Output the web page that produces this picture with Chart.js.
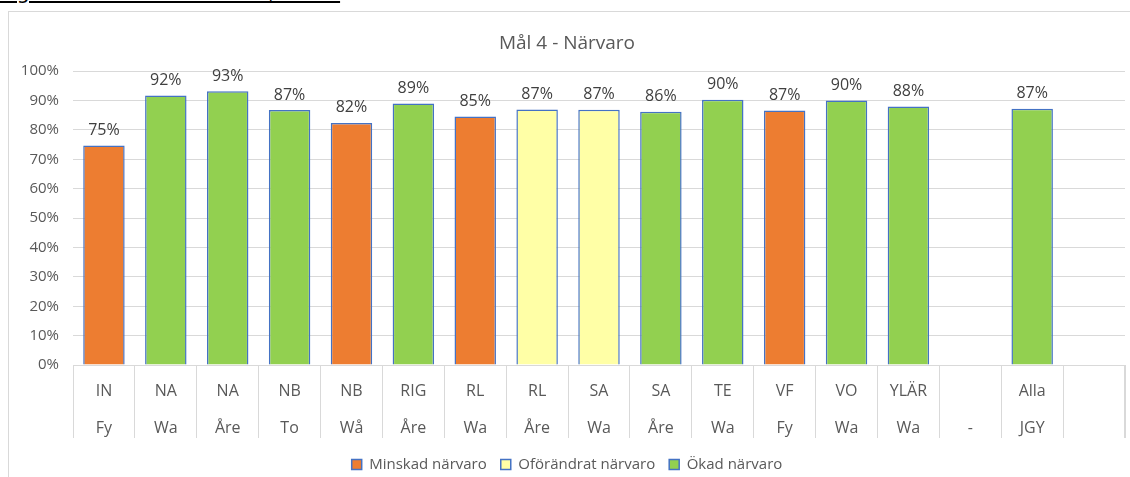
<!DOCTYPE html>
<html lang="sv">
<head>
<meta charset="utf-8">
<script src="https://cdn.jsdelivr.net/npm/chart.js@4"></script>
<style>
  body { margin: 0; background: #fff; overflow: hidden; }
  .rubrik {
    position: absolute; left: 0; top: -20px;
    font: 21px "DejaVu Sans", sans-serif; color: #000;
    text-decoration: underline; white-space: nowrap;
  }
  .ram {
    position: absolute; left: 8px; top: 11px;
    width: 1140px; height: 480px;
    border: 1px solid #d9d9d9; box-sizing: border-box;
  }
  canvas { position: absolute; left: 0; top: 0; }
</style>
</head>
<body>
<div class="rubrik">Figur 11. Närvaro i skolan, bild 2</div>
<div class="ram">
  <canvas id="narvaroChart" width="1130" height="470"></canvas>
</div>
<script>
// Programkoder (övre raden) och skolor (nedre raden)
const program = ['IN', 'NA', 'NA', 'NB', 'NB', 'RIG', 'RL', 'RL', 'SA', 'SA', 'TE', 'VF', 'VO', 'YLÄR', '', 'Alla', ''];
const skolor = ['Fy', 'Wa', 'Åre', 'To', 'Wå', 'Åre', 'Wa', 'Åre', 'Wa', 'Åre', 'Wa', 'Fy', 'Wa', 'Wa', '-', 'JGY', ''];

// Närvaro i procent per grupp
const narvaro = [74.7, 91.7, 93.2, 86.8, 82.4, 89.0, 84.6, 87.0, 86.9, 86.2, 90.3, 86.6, 90.0, 88.0, null, 87.2, null];

// Förändring: M = minskad, O = oförändrat, Ö = ökad
const forandring = ['M', 'Ö', 'Ö', 'Ö', 'M', 'Ö', 'M', 'O', 'O', 'Ö', 'Ö', 'M', 'Ö', 'Ö', null, 'Ö', null];

// Y-axelns etiketter
const yEtiketter = ['0%', '10%', '20%', '30%', '40%', '50%', '60%', '70%', '80%', '90%', '100%'];

const kategorier = program.map((p, i) => [p, skolor[i]]);

// Plocka ut värdena för en viss förändring
const valjSerie = kod => narvaro.map((v, i) => forandring[i] === kod ? v : null);

const grafiskText = '#595959';
const font = '"Open Sans", "Segoe UI", sans-serif';

// Plugin som skriver procentsatsen ovanför varje stapel
const stapelEtiketter = {
    id: 'stapelEtiketter',
    afterDatasetsDraw(chart) {
        const ctx = chart.ctx;
        ctx.save();
        ctx.font = '16px ' + font;
        ctx.fillStyle = '#404040';
        ctx.textAlign = 'center';
        ctx.textBaseline = 'bottom';
        chart.data.datasets.forEach((ds, d) => {
            const meta = chart.getDatasetMeta(d);
            meta.data.forEach((bar, i) => {
                const v = ds.data[i];
                if (v === null || v === undefined) return;
                ctx.fillText(Math.round(v) + '%', bar.x, bar.y - 7);
            });
        });
        ctx.restore();
    }
};

// Sista skiljelinjen i kategoriaxeln ritas inte alltid av Chart.js, så vi lägger till den
const sistaLinje = {
    id: 'sistaLinje',
    afterDraw(chart) {
        const x = chart.scales.x;
        const ctx = chart.ctx;
        const px = Math.floor(x.right) - 0.5;
        ctx.save();
        ctx.strokeStyle = '#d9d9d9';
        ctx.lineWidth = 1;
        ctx.beginPath();
        ctx.moveTo(px, x.top);
        ctx.lineTo(px, x.top + 73);
        ctx.stroke();
        ctx.restore();
    }
};

const ctx = document.getElementById('narvaroChart').getContext('2d');

const serier = [
    { label: 'Minskad närvaro', kod: 'M', farg: '#ED7D31' },
    { label: 'Oförändrat närvaro', kod: 'O', farg: '#FFFFA6' },
    { label: 'Ökad närvaro', kod: 'Ö', farg: '#92D050' }
];

new Chart(ctx, {
    type: 'bar',
    data: {
        labels: kategorier,
        datasets: serier.map(s => ({
            label: s.label,
            data: valjSerie(s.kod),
            backgroundColor: s.farg,
            borderColor: '#4472C4',
            borderWidth: 1.5,
            barPercentage: 0.67,
            categoryPercentage: 1,
            skipNull: true
        }))
    },
    options: {
        responsive: false,
        animation: false,
        layout: { padding: { left: 0, right: 14, top: 0, bottom: 0 } },
        scales: {
            x: {
                stacked: true,
                min: 0,
                max: kategorier.length - 1,
                grid: {
                    offset: true,
                    drawOnChartArea: false,
                    drawTicks: true,
                    tickLength: 73,
                    color: '#d9d9d9'
                },
                border: { display: true, color: '#d9d9d9' },
                ticks: {
                    autoSkip: false,
                    maxRotation: 0,
                    padding: -65,
                    color: grafiskText,
                    font: { family: font, size: 16, lineHeight: 2.3 }
                },
                afterFit: s => { s.height = 78; }
            },
            y: {
                stacked: true,
                min: 0,
                max: 100,
                border: { display: false },
                grid: { color: '#d9d9d9', drawTicks: false },
                ticks: {
                    stepSize: 10,
                    padding: 14,
                    color: grafiskText,
                    font: { family: font, size: 15 },
                    callback: (v, i) => yEtiketter[i]
                },
                afterFit: s => { s.width = 64; }
            }
        },
        plugins: {
            title: {
                display: true,
                text: 'Mål 4 - Närvaro',
                color: grafiskText,
                font: { family: font, size: 19, weight: 'normal' },
                padding: { top: 20, bottom: 16.4 }
            },
            legend: {
                position: 'bottom',
                labels: {
                    color: grafiskText,
                    font: { family: font, size: 15 },
                    boxWidth: 10,
                    boxHeight: 10,
                    padding: 14
                }
            },
            tooltip: { enabled: false }
        }
    },
    plugins: [stapelEtiketter, sistaLinje]
});
</script>
</body>
</html>
